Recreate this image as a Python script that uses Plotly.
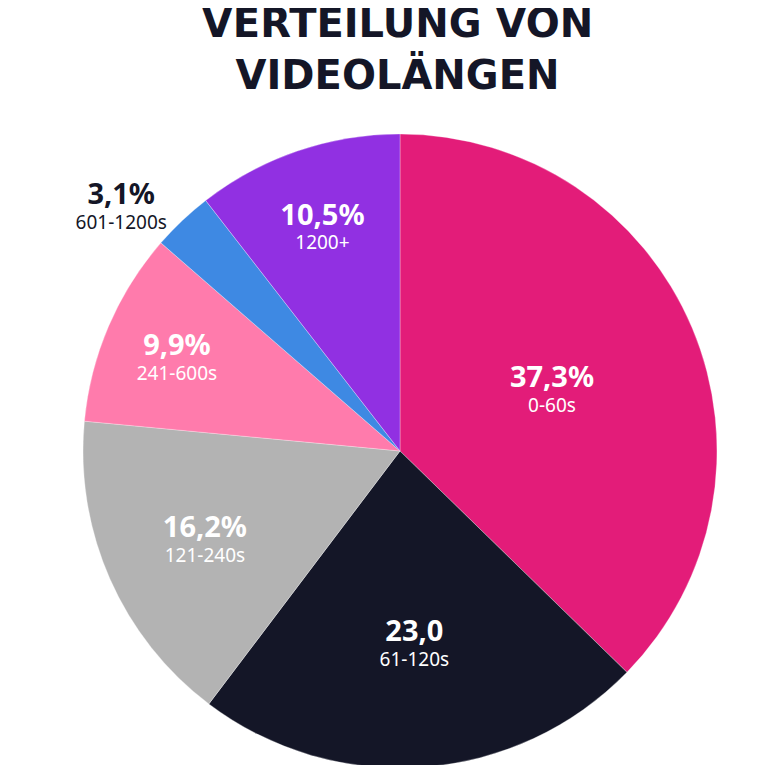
import plotly.graph_objects as go

categories = ["0-60s", "61-120s", "121-240s", "241-600s", "601-1200s", "1200+"]
shares = [37.3, 23.0, 16.2, 9.9, 3.1, 10.5]
share_text = ["37,3%", "23,0", "16,2%", "9,9%", "3,1%", "10,5%"]
colors = ["#E31C79", "#141627", "#B3B3B3", "#FF7BAC", "#3E89E3", "#9130E2"]
text_colors = ["white", "white", "white", "white", "#141627", "white"]
positions = ["inside", "inside", "inside", "inside", "outside", "inside"]

W, H = 779, 765
cx, cy, r = 392, 443, 317

fig = go.Figure(go.Pie(
    labels=categories,
    values=shares,
    text=share_text,
    texttemplate="<b><span style='font-size:29px'>%{text}</span></b><br>%{label}",
    textposition=positions,
    insidetextorientation="horizontal",
    textfont=dict(family="Noto Sans", size=19, color=text_colors),
    marker=dict(colors=colors, line=dict(color="rgba(255,255,255,0.5)", width=0.6)),
    sort=False,
    direction="clockwise",
    rotation=0,
    hole=0,
    showlegend=False,
    domain=dict(x=[(cx - r) / W, (cx + r) / W], y=[(H - cy - r) / H, (H - cy + r) / H]),
))

fig.update_layout(
    width=W, height=H,
    margin=dict(l=0, r=0, t=0, b=0),
    paper_bgcolor="white",
    title=dict(
        text="<b>VERTEILUNG VON<br>VIDEOLÄNGEN</b>",
        x=0.5, xanchor="center", y=0.962, yanchor="top",
        font=dict(family="DejaVu Sans", size=40, color="#141627"),
    ),
)

fig.write_html("out.html")
